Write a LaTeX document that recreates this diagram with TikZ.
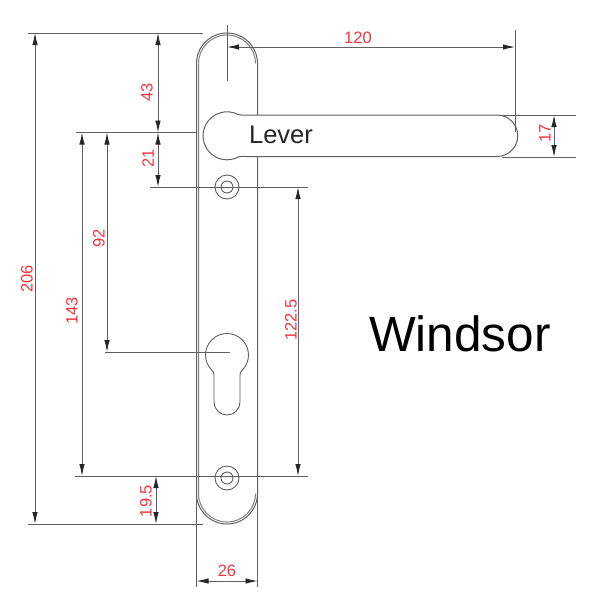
\documentclass[tikz,border=0pt]{standalone}
\usepackage{fontspec}
\setmainfont{Liberation Sans}
\usetikzlibrary{arrows.meta}
\definecolor{dimred}{HTML}{F5333F}
\definecolor{linegrey}{HTML}{606060}
\tikzset{
  outline/.style={draw=linegrey,line width=1pt},
  thinline/.style={draw=linegrey,line width=0.9pt},
  extline/.style={draw=linegrey,line width=0.9pt},
  dimline/.style={draw=linegrey,line width=0.9pt,{Latex[length=12pt,width=5.5pt,black!85]}-{Latex[length=12pt,width=5.5pt,black!85]}},
  dimlabel/.style={text=dimred,font=\fontsize{16.5}{16.5}\selectfont,inner sep=0pt},
  vlabel/.style={dimlabel,rotate=90}
}
\begin{document}
\begin{tikzpicture}[x=1pt,y=-1pt]
\useasboundingbox (0,0) rectangle (600,606);
\fill[white] (0,0) rectangle (600,606);
% plate
\draw[outline] (196.5,63.5) arc[start angle=180,end angle=0,radius=30.5pt] -- (257.5,493.5) arc[start angle=0,end angle=-180,radius=30.5pt] -- cycle;
\draw[outline,draw=linegrey!80] (198.5,63.5) arc[start angle=180,end angle=0,radius=28.5pt];
\draw[outline,draw=linegrey!80] (198.5,63.5) -- (198.5,493.5) arc[start angle=180,end angle=360,radius=28.5pt];
% lever
\draw[outline,fill=white] (497,115) -- (246,115) .. controls (243,115) and (241,115.5) .. (238.3,114.6)
  arc[start angle=62,end angle=298,radius=24pt]
  .. controls (241,156) and (243,156.5) .. (246,156.5) -- (497,156.5)
  arc[start angle=-90,end angle=90,radius=20.75pt] -- cycle;
% screws
\draw[thinline] (227,187) circle[radius=12pt];
\draw[thinline] (227,187) circle[radius=6pt];
\draw[thinline] (227,478) circle[radius=12pt];
\draw[thinline] (227,478) circle[radius=6pt];
% cylinder hole
\draw[thinline] (214,375) -- (214,402) arc[start angle=180,end angle=360,radius=13pt] -- (240,375)
  .. controls (240,372.5) and (240.5,372) .. (242.2,370.2)
  arc[start angle=-45,end angle=225,radius=21.5pt]
  .. controls (213.5,372) and (214,372.5) .. (214,375);
% dimension anchors
\coordinate (topL) at (28,33);     \coordinate (topR) at (203,33);
\coordinate (botL) at (28,524);    \coordinate (botR) at (203,524);
\coordinate (levL) at (76,132.5);  \coordinate (levR) at (196,132.5);
\coordinate (scrL) at (150,187);   \coordinate (scrR) at (308,187);
\coordinate (sc2L) at (75,476);    \coordinate (sc2R) at (308,476);
\coordinate (cylL) at (105,352);   \coordinate (cylR) at (230,352);
\coordinate (cenT) at (227,25);    \coordinate (cenB) at (227,81);
\coordinate (endT) at (515,30);    \coordinate (endB) at (515,132);
\coordinate (lvTL) at (502,115);   \coordinate (lvTR) at (576,115);
\coordinate (lvBL) at (502,157);   \coordinate (lvBR) at (576,157);
\coordinate (wdLT) at (196.5,493); \coordinate (wdLB) at (196.5,587);
\coordinate (wdRT) at (257.5,493); \coordinate (wdRB) at (257.5,587);
% extension lines
\foreach \a/\b in {topL/topR,botL/botR,levL/levR,scrL/scrR,sc2L/sc2R,cylL/cylR,cenT/cenB,endT/endB,lvTL/lvTR,lvBL/lvBR,wdLT/wdLB,wdRT/wdRB}
  \draw[extline] (\a) -- (\b);
% dimension lines
\draw[dimline] (topL -| 35,0) -- (botL -| 35,0);
\draw[dimline] (topL -| 158,0) -- (levL -| 158,0);
\draw[dimline] (levL -| 158,0) -- (scrL -| 158,0);
\draw[dimline] (levL -| 82,0) -- (sc2L -| 82,0);
\draw[dimline] (levL -| 107,0) -- (cylL -| 107,0);
\draw[dimline] (scrR -| 298,0) -- (sc2R -| 298,0);
\draw[dimline] (sc2L -| 156,0) -- (botL -| 156,0);
\draw[dimline] (lvTL -| 554,0) -- (lvBL -| 554,0);
\draw[dimline] (cenT |- 0,47) -- (endT |- 0,47);
\draw[dimline] (wdLB |- 0,581) -- (wdRB |- 0,581);
% labels
\node[vlabel] (l206) at (27,279) {206};
\node[vlabel] (l43) at (147,92) {43};
\node[vlabel] (l21) at (148,158) {21};
\node[vlabel] (l143) at (72,311) {143};
\node[vlabel] (l92) at (99,238) {92};
\node[vlabel] (l1225) at (291,320) {122.5};
\node[vlabel] (l195) at (146,501) {19.5};
\node[vlabel] (l17) at (545,133) {17};
\node[dimlabel] (l26) at (227,571) {26};
\node[dimlabel] (l120) at (358,38) {120};
\node[inner sep=0pt,text=black!85,font=\fontsize{25.5}{25.5}\selectfont] (lever) at (281,135) {Lever};
\node[inner sep=0pt,text=black,font=\fontsize{49.5}{49.5}\selectfont] (windsor) at (460,334) {Windsor};
\end{tikzpicture}
\end{document}
